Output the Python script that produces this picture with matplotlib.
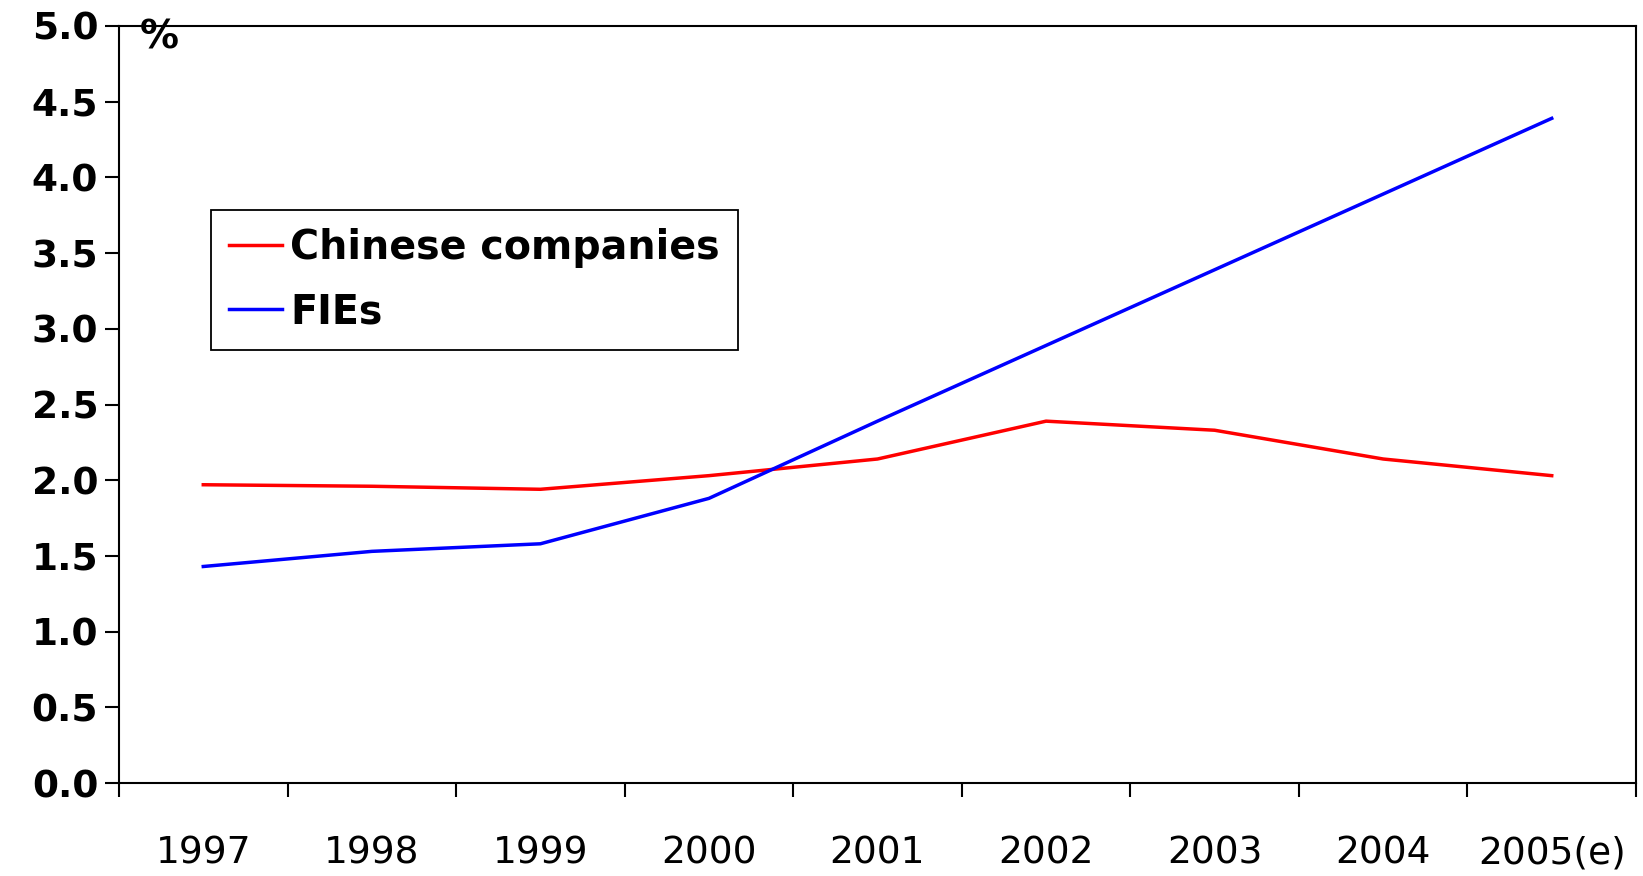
import matplotlib
matplotlib.use('Agg')
import matplotlib.pyplot as plt
import numpy as np

# Share of sales (%) by year
years = ['1997', '1998', '1999', '2000', '2001', '2002', '2003', '2004', '2005(e)']
chinese_companies = [1.97, 1.96, 1.94, 2.03, 2.14, 2.39, 2.33, 2.14, 2.03]
fies = [1.43, 1.53, 1.58, 1.88, 2.39, 2.89, 3.39, 3.89, 4.39]
y_ticks = [0.0, 0.5, 1.0, 1.5, 2.0, 2.5, 3.0, 3.5, 4.0, 4.5, 5.0]

plt.rcParams['font.family'] = ['DejaVu Sans']

fig = plt.figure(figsize=(16.43, 8.76), dpi=100)
ax = fig.add_axes([119 / 1643, 93 / 876, 1517 / 1643, 757 / 876])

x = np.arange(len(years))
ax.plot(x, chinese_companies, color='#ff0000', lw=2.5, label='Chinese companies')
ax.plot(x, fies, color='#0000ff', lw=2.5, label='FIEs')

ax.set_xlim(-0.5, len(years) - 0.5)
ax.set_ylim(0, 5)

# category labels sit between the boundary ticks
ax.set_xticks(x)
ax.set_xticklabels(years, fontsize=27)
ax.tick_params(axis='x', which='major', length=0, pad=38)
ax.set_xticks(np.arange(-0.5, len(years)), minor=True)
ax.tick_params(axis='x', which='minor', length=10, width=1.5, direction='out')

ax.set_yticks(y_ticks)
ax.set_yticklabels(['%.1f' % v for v in y_ticks], fontsize=27, fontweight='bold')
ax.tick_params(axis='y', length=10, width=1.5, direction='out', pad=5)

for s in ax.spines.values():
    s.set_linewidth(1.5)
    s.set_color('black')

ax.text(0.014, 1.01, '%', transform=ax.transAxes, fontsize=28, fontweight='bold',
        va='top', ha='left')

leg = ax.legend(loc='upper left', bbox_to_anchor=(211 / 1643, 1 - 210 / 876),
                bbox_transform=fig.transFigure, fancybox=False, edgecolor='black',
                framealpha=1, prop={'weight': 'bold', 'size': 28.5},
                handlelength=1.35, handletextpad=0.2, borderpad=0.45, labelspacing=0.62,
                borderaxespad=0)
leg.get_frame().set_linewidth(1.3)

fig.savefig('out.png', dpi=100)
